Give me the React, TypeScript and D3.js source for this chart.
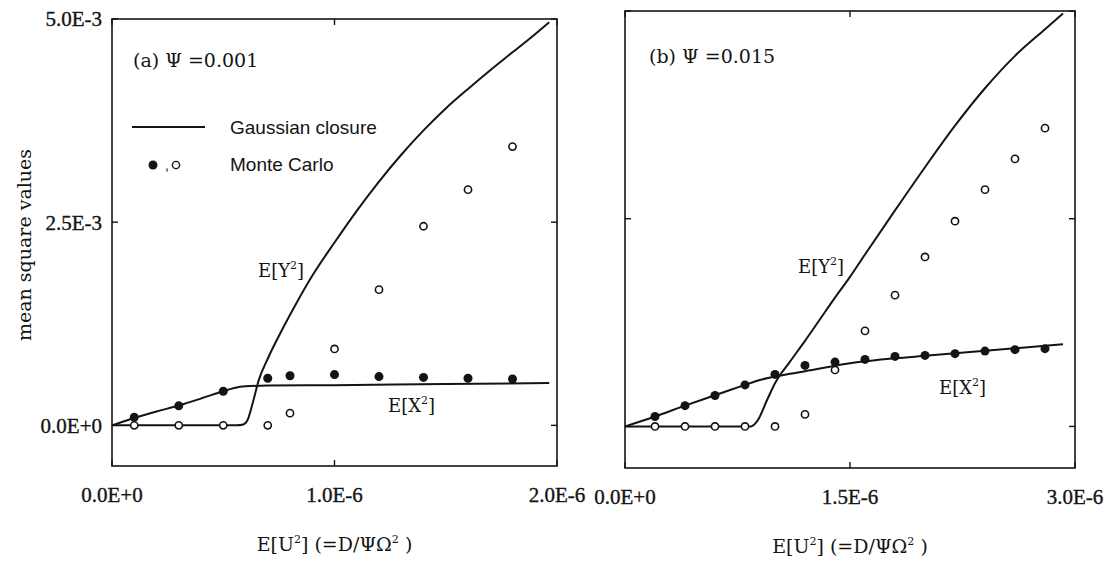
import React from 'react';
import * as d3 from 'd3';

// ---- tick values (x in units of 1E-6, y in units of 1E-3) ----
const yTickValues = [0, 2.5, 5];
const yTickLabels = ['0.0E+0', '2.5E-3', '5.0E-3'];
const xTickValuesA = [0, 1, 2];
const xTickLabelsA = ['0.0E+0', '1.0E-6', '2.0E-6'];
const xTickValuesB = [0, 1.5, 3];
const xTickLabelsB = ['0.0E+0', '1.5E-6', '3.0E-6'];

// ---- panel (a) Psi = 0.001 ----
const mcXA: [number, number][] = [
  [0.1, 0.1], [0.3, 0.24], [0.5, 0.42], [0.7, 0.58], [0.8, 0.61],
  [1.0, 0.625], [1.2, 0.6], [1.4, 0.59], [1.6, 0.58], [1.8, 0.57],
];
const mcYA: [number, number][] = [
  [0.1, 0], [0.3, 0], [0.5, 0], [0.7, 0], [0.8, 0.15],
  [1.0, 0.94], [1.2, 1.67], [1.4, 2.45], [1.6, 2.9], [1.8, 3.43],
];
const gaussXA: [number, number][] = [
  [0, 0], [0.1, 0.09], [0.2, 0.17], [0.3, 0.245], [0.4, 0.33], [0.5, 0.42],
  [0.55, 0.46], [0.6, 0.48], [0.7, 0.49], [1.0, 0.495], [1.5, 0.51], [1.965, 0.52],
];
const gaussYA: [number, number][] = [
  [0, 0], [0.56, 0], [0.59, 0.01], [0.61, 0.07], [0.63, 0.25], [0.66, 0.56],
  [0.7, 0.82], [0.75, 1.1], [0.82, 1.46], [0.9, 1.84], [1.0, 2.25], [1.1, 2.64],
  [1.2, 3.0], [1.3, 3.33], [1.4, 3.63], [1.5, 3.9], [1.6, 4.14], [1.7, 4.37],
  [1.8, 4.59], [1.9, 4.81], [1.965, 4.96],
];

// ---- panel (b) Psi = 0.015 ----
const mcXB: [number, number][] = [
  [0.2, 0.12], [0.4, 0.25], [0.6, 0.373], [0.8, 0.5], [1.0, 0.626], [1.2, 0.735],
  [1.4, 0.775], [1.6, 0.807], [1.8, 0.843], [2.0, 0.855], [2.2, 0.876],
  [2.4, 0.907], [2.6, 0.924], [2.8, 0.936],
];
const mcYB: [number, number][] = [
  [0.2, 0], [0.4, 0], [0.6, 0], [0.8, 0], [1.0, 0], [1.2, 0.145], [1.4, 0.68],
  [1.6, 1.15], [1.8, 1.58], [2.0, 2.04], [2.2, 2.47], [2.4, 2.85], [2.6, 3.22], [2.8, 3.59],
];
const gaussXB: [number, number][] = [
  [0, 0], [0.2, 0.12], [0.4, 0.25], [0.6, 0.375], [0.8, 0.5], [0.9, 0.56],
  [1.0, 0.6], [1.1, 0.635], [1.2, 0.665], [1.5, 0.76], [1.8, 0.82], [2.0, 0.85],
  [2.2, 0.88], [2.4, 0.91], [2.6, 0.94], [2.8, 0.97], [2.92, 0.99],
];
const gaussYB: [number, number][] = [
  [0, 0], [0.84, 0], [0.88, 0.06], [0.95, 0.33], [1.0, 0.52], [1.1, 0.78],
  [1.2, 1.03], [1.3, 1.29], [1.4, 1.55], [1.5, 1.8], [1.6, 2.07], [1.8, 2.6],
  [2.0, 3.12], [2.2, 3.62], [2.4, 4.07], [2.6, 4.46], [2.8, 4.78], [2.92, 4.97],
];

const INK = '#141414';
const SERIF = '"DejaVu Serif", serif';
const TIMES = '"Liberation Serif", "Times New Roman", serif';
const SANS = '"Liberation Sans", Arial, sans-serif';

type PanelProps = {
  left: number; right: number; top: number; bottom: number;
  xMax: number; xTicks: number[]; xLabels: string[]; showYLabels: boolean;
  mcX: [number, number][]; mcY: [number, number][];
  gX: [number, number][]; gY: [number, number][];
  title: string; psi: string; titlePos: [number, number];
  yLabPos: [number, number]; xLabPos: [number, number];
  xTitleY: number; tickLabelY: number;
};

function Panel(p: PanelProps) {
  const x = d3.scaleLinear().domain([0, p.xMax]).range([p.left, p.right]);
  const y = d3.scaleLinear().domain([-0.5, 5]).range([p.bottom, p.top]);
  const line = d3.line<[number, number]>().x(d => x(d[0])).y(d => y(d[1])).curve(d3.curveMonotoneX);
  const tl = 6;
  const cx = (p.left + p.right) / 2;
  return (
    <g>
      <rect x={p.left} y={p.top} width={p.right - p.left} height={p.bottom - p.top}
        fill="none" stroke={INK} strokeWidth={1.6} />
      {p.xTicks.map((t, i) => (
        <g key={'xt' + i}>
          <line x1={x(t)} x2={x(t)} y1={p.bottom} y2={p.bottom - tl} stroke={INK} strokeWidth={1.4} />
          <line x1={x(t)} x2={x(t)} y1={p.top} y2={p.top + tl} stroke={INK} strokeWidth={1.4} />
          <text x={x(t)} y={p.tickLabelY} textAnchor="middle" fontFamily={TIMES} fontSize={21}
            fill={INK} stroke={INK} strokeWidth={0.35}>{p.xLabels[i]}</text>
        </g>
      ))}
      {yTickValues.map((t, i) => (
        <g key={'yt' + i}>
          <line x1={p.left} x2={p.left + tl} y1={y(t)} y2={y(t)} stroke={INK} strokeWidth={1.4} />
          <line x1={p.right} x2={p.right - tl} y1={y(t)} y2={y(t)} stroke={INK} strokeWidth={1.4} />
          {p.showYLabels && (
            <text x={p.left - 10} y={y(t)} dy="0.35em" textAnchor="end" fontFamily={TIMES} fontSize={21}
              fill={INK} stroke={INK} strokeWidth={0.35}>{yTickLabels[i]}</text>
          )}
        </g>
      ))}
      <path d={line(p.gX) || ''} fill="none" stroke={INK} strokeWidth={2} />
      <path d={line(p.gY) || ''} fill="none" stroke={INK} strokeWidth={2} />
      {p.mcX.map((d, i) => (
        <circle key={'mx' + i} cx={x(d[0])} cy={y(d[1])} r={4.5} fill={INK} />
      ))}
      {p.mcY.map((d, i) => (
        <circle key={'my' + i} cx={x(d[0])} cy={y(d[1])} r={3.6} fill="#fff" stroke={INK} strokeWidth={1.6} />
      ))}
      <text x={p.titlePos[0]} y={p.titlePos[1]} fontFamily={SERIF} fontSize={19} fill={INK}>
        {p.title} Ψ =<tspan>{p.psi}</tspan>
      </text>
      <text x={p.yLabPos[0]} y={p.yLabPos[1]} fontFamily={SERIF} fontSize={18} fill={INK}>
        E[Y<tspan fontSize={11} dy={-8}>2</tspan><tspan dy={8}>]</tspan>
      </text>
      <text x={p.xLabPos[0]} y={p.xLabPos[1]} fontFamily={SERIF} fontSize={18} fill={INK}>
        E[X<tspan fontSize={11} dy={-8}>2</tspan><tspan dy={8}>]</tspan>
      </text>
      <text x={cx} y={p.xTitleY} textAnchor="middle" fontFamily={SERIF} fontSize={19} fill={INK}>
        E[U<tspan fontSize={11} dy={-8}>2</tspan><tspan dy={8}>] (=D/ΨΩ</tspan><tspan fontSize={11} dy={-8}>2</tspan><tspan dy={8}> )</tspan>
      </text>
    </g>
  );
}

export default function App() {
  return (
    <svg width={1107} height={561} style={{ position: 'absolute', left: 0, top: 0, background: '#fff' }}>
      <rect width={1107} height={561} fill="#fff" />
      <Panel left={112} right={557} top={19} bottom={466} xMax={2}
        xTicks={xTickValuesA} xLabels={xTickLabelsA} showYLabels={true}
        mcX={mcXA} mcY={mcYA} gX={gaussXA} gY={gaussYA}
        title="(a)" psi="0.001" titlePos={[133, 67]}
        yLabPos={[258, 277]} xLabPos={[388, 412]} xTitleY={551} tickLabelY={502} />
      <Panel left={625} right={1075} top={11} bottom={468} xMax={3}
        xTicks={xTickValuesB} xLabels={xTickLabelsB} showYLabels={false}
        mcX={mcXB} mcY={mcYB} gX={gaussXB} gY={gaussYB}
        title="(b)" psi="0.015" titlePos={[649, 63]}
        yLabPos={[798, 273]} xLabPos={[939, 394]} xTitleY={553} tickLabelY={504} />
      {/* legend */}
      <line x1={132} x2={205} y1={127} y2={127} stroke={INK} strokeWidth={1.8} />
      <text x={230} y={134} fontFamily={SANS} fontSize={19} fill={INK}>Gaussian closure</text>
      <circle cx={153} cy={165} r={4.5} fill={INK} />
      <text x={165} y={170} fontFamily={SANS} fontSize={14} fill={INK}>,</text>
      <circle cx={176} cy={165} r={3.6} fill="#fff" stroke={INK} strokeWidth={1.4} />
      <text x={230} y={171} fontFamily={SANS} fontSize={19} fill={INK}>Monte Carlo</text>
      {/* y axis title */}
      <text transform="translate(31,245) rotate(-90)" textAnchor="middle" fontFamily={SERIF} fontSize={19} fill={INK}>mean square values</text>
    </svg>
  );
}
